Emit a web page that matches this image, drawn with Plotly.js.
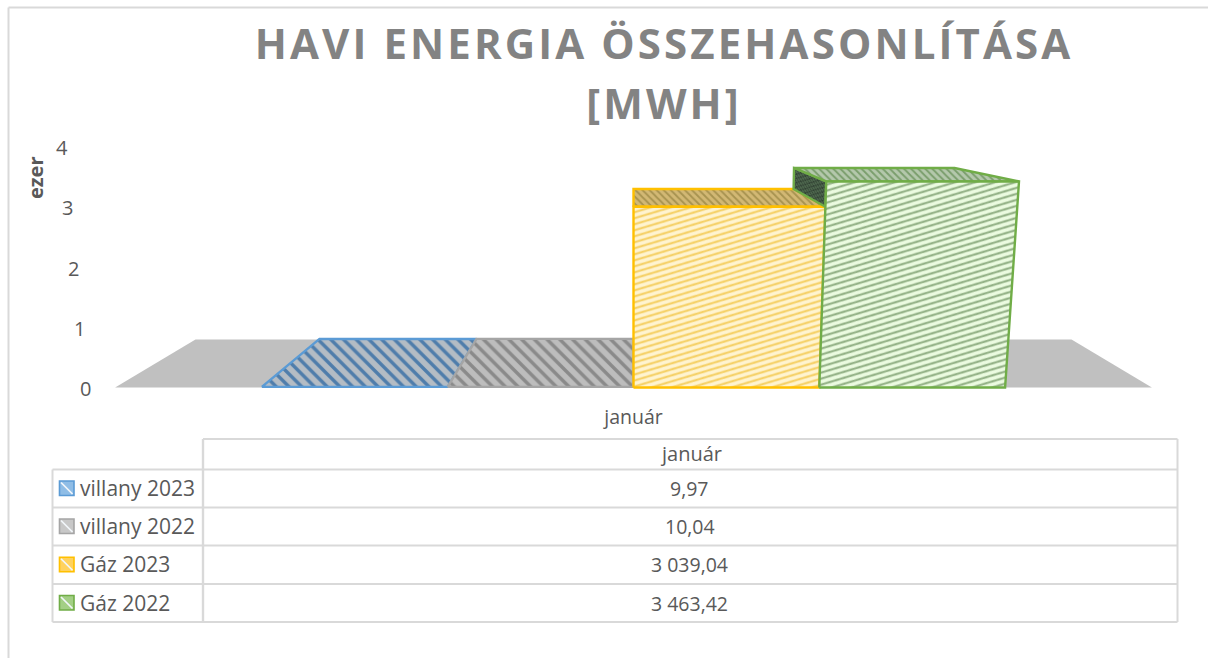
<!DOCTYPE html>
<html><head><meta charset="utf-8">
<script src="https://cdn.plot.ly/plotly-3.0.1.min.js"></script>
<style>
html,body{margin:0;padding:0;background:#fff}
#c{width:1208px;height:658px}
.gtitle{letter-spacing:3.1px}
</style></head><body><div id="c"></div>
<script>
const seriesNames = ['villany 2023','villany 2022','Gáz 2023','Gáz 2022'];
const seriesValues = [9.97, 10.04, 3039.04, 3463.42];
const seriesLabels = ['9,97','10,04','3 039,04','3 463,42'];
const category = 'január';
const yTicks = [0,1,2,3,4];
const titleText = 'HAVI ENERGIA ÖSSZEHASONLÍTÁSA<br>[MWH]';

const lineColors = ['#5b9bd5','#a5a5a5','#ffc000','#70ad47'];
const keyFills = ['#8fbde6','#c8c8c8','#ffd25e','#a3cf85'];
const frontFg = ['#4f7fab','#8a8a8a','#f5cf62','#8fae82'];
const frontBg = ['#a9b6c2','#bcbcbc','#fff4d0','#ebfbe0'];
const topFg = ['#4f7dab','#8a8a8a','#a89350','#7a9e6c'];
const topBg = ['#b4bcc4','#bdbdbd','#d2b874','#b4c8ac'];

// chart geometry: a 3-D column chart seen in perspective
const W=1208,H=658,L=50,R=1160,B=395,T=135;
const x0Px=633.5,y0Px=387.5,unitX=185.8,unitY=59.5;
const floorHalf=2.79, vanishY=4.81;
function proj(X,h,d){
  const sx=1-0.155*d, sy=1-0.168*d, tilt=0.0108*(1-0.4*d);
  return [X*sx*(1+tilt*h), vanishY-(vanishY-h)*sy];
}
function poly(pts){
  const p=pts.map(a=>proj(a[0],a[1],a[2]));
  p.push(p[0]);
  return {x:p.map(a=>a[0]),y:p.map(a=>a[1])};
}
const traces=[];
function face(pts,fill,line,pattern){
  const t=poly(pts);
  traces.push(Object.assign(t,{type:'scatter',mode:'lines',fill:'toself',fillcolor:fill,
    fillpattern:pattern||undefined,line:line,showlegend:false,hoverinfo:'skip',cliponaxis:false}));
}
// floor
face([[-floorHalf,0,0],[floorHalf,0,0],[floorHalf,0,1],[-floorHalf,0,1]],'#c0c0c0',{width:0,color:'#c0c0c0'});
// columns
seriesValues.forEach((v,i)=>{
  const h=v/1000, X0=i-2, X1=i-1;
  const ln={color:lineColors[i],width:2.4};
  const prev=i>0?seriesValues[i-1]/1000:0;
  if(h>prev && X0>0){
    face([[X0,prev,0],[X0,h,0],[X0,h,1],[X0,prev,1]],'#3f5a40',{color:lineColors[i],width:2.4},
      {shape:'x',fgcolor:'#2c3a2e',bgcolor:'#4d664d',size:3,solidity:0.4});
  }
  face([[X0,h,0],[X1,h,0],[X1,h,1],[X0,h,1]],topBg[i],ln,
    {shape:'\\',fgcolor:topFg[i],bgcolor:topBg[i],size:i<2?9:5,solidity:0.38});
  if(h>0.1){
    face([[X0,0,0],[X1,0,0],[X1,h,0],[X0,h,0]],frontBg[i],ln,
      {shape:'/',fgcolor:frontFg[i],bgcolor:frontBg[i],size:4.25,solidity:0.36});
  }
});

const px=x=>(x-L)/(R-L), py=y=>(B-y)/(B-T);
const grid='#d9d9d9';
const shapes=[];
function seg(x0,y0,x1,y1,color,w){
  shapes.push({type:'line',xref:'paper',yref:'paper',x0:px(x0),y0:py(y0),x1:px(x1),y1:py(y1),line:{color:color,width:w}});
}
// outer frame
seg(8.5,7.5,1208,7.5,grid,2);
seg(8.5,7.5,8.5,658,grid,2);
// data table
const tL=52.5,tC=203,tR=1177.5;
const rowY=[439,469.5,507.5,545.5,584,622];
seg(tC,rowY[0],tR,rowY[0],grid,2);
rowY.slice(1).forEach(y=>seg(tL,y,tR,y,grid,2));
seg(tL,rowY[1],tL,rowY[5],grid,2);
seg(tC,rowY[0],tC,rowY[5],grid,2.4);
seg(tR,rowY[0],tR,rowY[5],grid,2);

const fontFor=s=>({family:'Open Sans',size:s,color:'#595959'});
const annotations=[];
function note(text,x,y,anchor,font,extra){
  annotations.push(Object.assign({text:text,xref:'paper',yref:'paper',x:px(x),y:py(y),xanchor:anchor,yanchor:'middle',
    showarrow:false,font:font,borderpad:0},extra||{}));
}
note(category,690.5,453,'center',fontFor(20));
seriesNames.forEach((n,i)=>{
  const yc=(rowY[i+1]+rowY[i+2])/2;
  note(n,78.5,yc-0.5,'left',fontFor(21));
  note(seriesLabels[i],689.5,yc,'center',fontFor(19.5));
  shapes.push({type:'rect',xref:'paper',yref:'paper',x0:px(59.5),x1:px(74),y0:py(yc-7.5),y1:py(yc+7),
    fillcolor:keyFills[i],line:{color:lineColors[i],width:1.6}});
  seg(61,yc-6,72.5,yc+5.5,'#f2f6fa',1.7);
});
note('ezer',35,178,'center',{family:'Open Sans',size:20,color:'#595959',weight:700},{textangle:-90});
// value-axis labels follow the tilted wall of the chart
yTicks.forEach(v=>{
  const p=proj(-2.95,v,0);
  annotations.push({text:String(v),xref:'x',yref:'y',x:p[0],y:p[1],xanchor:'center',yanchor:'middle',yshift:v*0.75-1,
    showarrow:false,font:fontFor(20),borderpad:0});
});

const layout={
  width:W,height:H,paper_bgcolor:'#fff',plot_bgcolor:'#fff',showlegend:false,
  margin:{l:L,r:W-R,t:T,b:H-B,pad:0},
  title:{text:titleText,x:664/W,xanchor:'center',y:1-59/H,yanchor:'middle',automargin:false,
    font:{family:'Open Sans',size:42,weight:700,color:'#838383'}},
  xaxis:{range:[(L-x0Px)/unitX,(R-x0Px)/unitX],showgrid:false,zeroline:false,showline:false,tickmode:'array',tickvals:[0],ticktext:[category],
    ticks:'outside',ticklen:5,tickcolor:'rgba(0,0,0,0)',tickfont:fontFor(19.5),fixedrange:true},
  yaxis:{range:[(y0Px-B)/unitY,(y0Px-T)/unitY],showgrid:false,zeroline:false,showline:false,showticklabels:false,ticks:'',fixedrange:true},
  shapes:shapes,annotations:annotations
};
Plotly.newPlot('c',traces,layout,{displayModeBar:false,staticPlot:true}).then(()=>{
  // flatten the diagonal hatch of the column fronts to the shallow angle of the original
  document.querySelectorAll('#c pattern').forEach(p=>{
    const d=p.querySelector('path');
    if(d && (d.getAttribute('d')||'').startsWith('M-')) p.setAttribute('patternTransform','skewY(35)');
  });
  // wider line spacing of the two-line title
  const lines=document.querySelectorAll('#c .gtitle .line');
  if(lines.length>1) lines[1].setAttribute('dy','60px');
});
</script></body></html>
